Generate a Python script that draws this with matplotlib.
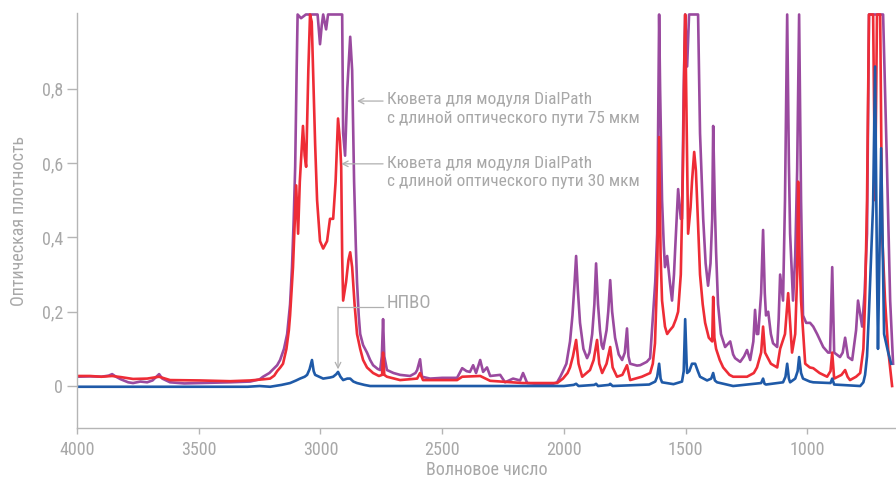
import matplotlib
matplotlib.use("Agg")
from matplotlib import pyplot as plt

plt.rcParams['font.family'] = ['Roboto', 'DejaVu Sans']

# spectra: wavenumber (cm-1) / absorbance, 1.0 = top of the frame
wn_75 = [4000, 3947, 3900, 3870, 3856, 3840, 3820, 3790, 3770, 3740, 3712, 3690, 3663, 3650,
         3618, 3560, 3495, 3430, 3371, 3289, 3250, 3236, 3210, 3195, 3178, 3166, 3150, 3137,
         3125, 3117, 3110, 3104, 3098, 3094, 3080, 3060, 3012, 3002, 2995, 2989, 2977, 2969,
         2911, 2907, 2899, 2890, 2878, 2870, 2862, 2855, 2850, 2843, 2837, 2825, 2809, 2796,
         2784, 2765, 2755, 2748, 2743, 2738, 2727, 2700, 2673, 2632, 2610, 2603, 2591, 2583,
         2550, 2500, 2439, 2418, 2400, 2386, 2373, 2361, 2344, 2332, 2316, 2303, 2262, 2242,
         2209, 2180, 2168, 2151, 2100, 2057, 2028, 2015, 2004, 1990, 1975, 1965, 1957, 1950,
         1943, 1934, 1920, 1905, 1895, 1884, 1875, 1868, 1860, 1852, 1845, 1839, 1825, 1818,
         1810, 1802, 1790, 1775, 1761, 1750, 1741, 1735, 1728, 1700, 1687, 1660, 1646, 1634,
         1625, 1617, 1612, 1609, 1605, 1597, 1590, 1585, 1576, 1565, 1556, 1548, 1543, 1531,
         1520, 1515, 1508, 1502, 1494, 1486, 1449, 1441, 1428, 1418, 1408, 1398, 1391, 1387,
         1380, 1375, 1367, 1355, 1338, 1317, 1305, 1297, 1276, 1260, 1248, 1235, 1222, 1215,
         1208, 1202, 1190, 1182, 1175, 1170, 1161, 1150, 1141, 1124, 1118, 1112, 1100, 1092,
         1083, 1076, 1071, 1059, 1050, 1042, 1034, 1026, 1018, 1005, 989, 976, 960, 935,
         915, 907, 898, 890, 866, 855, 845, 833, 816, 800, 792, 775, 765, 755,
         747, 689, 673, 660, 648]
abs_75 = [0.025, 0.026, 0.025, 0.028, 0.032, 0.025, 0.018, 0.010, 0.008, 0.012, 0.010, 0.015, 0.032, 0.020,
          0.010, 0.007, 0.008, 0.009, 0.010, 0.012, 0.018, 0.025, 0.035, 0.045, 0.056, 0.070, 0.10, 0.14,
          0.22, 0.32, 0.45, 0.59, 0.85, 1.0, 0.99, 1.0, 1.0, 0.92, 0.97, 1.0, 0.96, 1.0,
          1.0, 0.68, 0.62, 0.80, 0.94, 0.85, 0.55, 0.38, 0.28, 0.19, 0.14, 0.11, 0.09, 0.07,
          0.056, 0.046, 0.043, 0.08, 0.18, 0.08, 0.043, 0.035, 0.030, 0.027, 0.035, 0.043, 0.072, 0.025,
          0.020, 0.022, 0.022, 0.048, 0.040, 0.038, 0.056, 0.035, 0.070, 0.038, 0.050, 0.027, 0.030, 0.010,
          0.020, 0.015, 0.035, 0.008, 0.005, 0.003, 0.010, 0.025, 0.040, 0.06, 0.12, 0.19, 0.27, 0.35,
          0.26, 0.17, 0.10, 0.075, 0.09, 0.14, 0.22, 0.33, 0.22, 0.15, 0.11, 0.10, 0.15, 0.20,
          0.285, 0.20, 0.13, 0.085, 0.07, 0.09, 0.155, 0.08, 0.06, 0.055, 0.056, 0.065, 0.075, 0.19,
          0.28, 0.41, 0.80, 1.0, 0.80, 0.50, 0.38, 0.32, 0.35, 0.28, 0.23, 0.30, 0.37, 0.53,
          0.45, 0.45, 0.80, 1.0, 0.86, 1.0, 1.0, 0.68, 0.45, 0.33, 0.27, 0.33, 0.45, 0.70,
          0.48, 0.36, 0.22, 0.14, 0.105, 0.12, 0.085, 0.075, 0.065, 0.08, 0.097, 0.07, 0.12, 0.205,
          0.14, 0.14, 0.25, 0.42, 0.25, 0.19, 0.20, 0.14, 0.115, 0.105, 0.18, 0.30, 0.23, 0.50,
          1.0, 0.60, 0.41, 0.23, 0.35, 0.58, 1.0, 0.50, 0.19, 0.17, 0.17, 0.16, 0.14, 0.105,
          0.09, 0.09, 0.32, 0.09, 0.078, 0.09, 0.13, 0.078, 0.07, 0.15, 0.23, 0.16, 0.25, 0.41,
          1.0, 1.0, 0.59, 0.23, 0.06]

wn_30 = [4000, 3947, 3900, 3856, 3820, 3770, 3712, 3663, 3618, 3495, 3371, 3289, 3236, 3207,
         3190, 3178, 3165, 3154, 3140, 3130, 3125, 3113, 3100, 3092, 3085, 3072, 3065, 3059,
         3050, 3043, 3036, 3031, 3022, 3014, 3002, 2989, 2973, 2961, 2948, 2938, 2928, 2920,
         2915, 2911, 2907, 2895, 2885, 2878, 2870, 2860, 2850, 2837, 2825, 2809, 2784, 2760,
         2747, 2743, 2738, 2727, 2673, 2603, 2591, 2579, 2439, 2418, 2344, 2303, 2168, 2028,
         2004, 1985, 1975, 1963, 1950, 1940, 1925, 1893, 1878, 1864, 1855, 1843, 1825, 1810,
         1800, 1782, 1760, 1741, 1728, 1680, 1646, 1635, 1626, 1617, 1609, 1603, 1597, 1585,
         1576, 1565, 1552, 1540, 1531, 1520, 1511, 1505, 1502, 1496, 1490, 1480, 1474, 1465,
         1458, 1453, 1441, 1430, 1420, 1405, 1391, 1387, 1382, 1375, 1360, 1346, 1320, 1305,
         1248, 1220, 1207, 1190, 1182, 1174, 1150, 1124, 1112, 1092, 1079, 1063, 1050, 1042,
         1038, 1032, 1026, 1009, 990, 976, 950, 919, 905, 898, 890, 860, 845, 835,
         825, 800, 783, 770, 763, 755, 747, 730, 722, 714, 701, 693, 681, 668, 652]
abs_30 = [0.027, 0.027, 0.025, 0.027, 0.024, 0.019, 0.020, 0.025, 0.016, 0.015, 0.013, 0.015, 0.018, 0.020,
          0.028, 0.040, 0.050, 0.06, 0.10, 0.15, 0.19, 0.32, 0.54, 0.41, 0.55, 0.70, 0.62, 0.59,
          0.85, 1.0, 0.98, 0.86, 0.65, 0.50, 0.39, 0.37, 0.39, 0.45, 0.45, 0.55, 0.72, 0.66,
          0.59, 0.35, 0.23, 0.28, 0.34, 0.36, 0.32, 0.22, 0.14, 0.10, 0.07, 0.05, 0.035, 0.027,
          0.030, 0.09, 0.030, 0.025, 0.016, 0.020, 0.035, 0.016, 0.016, 0.025, 0.027, 0.014, 0.008, 0.008,
          0.020, 0.035, 0.050, 0.08, 0.124, 0.06, 0.025, 0.043, 0.07, 0.124, 0.06, 0.035, 0.06, 0.105,
          0.05, 0.025, 0.03, 0.056, 0.016, 0.025, 0.035, 0.06, 0.115, 0.30, 0.67, 0.35, 0.23, 0.16,
          0.14, 0.15, 0.16, 0.18, 0.20, 0.30, 0.59, 0.90, 1.0, 0.70, 0.41, 0.48, 0.55, 0.63,
          0.58, 0.50, 0.30, 0.22, 0.17, 0.13, 0.12, 0.24, 0.13, 0.10, 0.07, 0.05, 0.03, 0.025,
          0.025, 0.035, 0.05, 0.09, 0.16, 0.09, 0.06, 0.05, 0.10, 0.14, 0.25, 0.09, 0.14, 0.30,
          0.55, 0.35, 0.23, 0.06, 0.05, 0.048, 0.035, 0.025, 0.04, 0.09, 0.02, 0.03, 0.043, 0.025,
          0.016, 0.025, 0.035, 0.10, 0.23, 0.50, 1.0, 1.0, 0.50, 1.0, 1.0, 0.41, 0.23, 0.097, 0.0]

wn_atr = [4000, 3300, 3250, 3207, 3160, 3125, 3100, 3084, 3065, 3055, 3045, 3035, 3028, 3022,
          2989, 2960, 2948, 2935, 2928, 2918, 2907, 2890, 2878, 2865, 2850, 2820, 2796, 2000,
          1960, 1950, 1940, 1875, 1868, 1860, 1815, 1810, 1800, 1650, 1625, 1617, 1609, 1603,
          1597, 1550, 1515, 1508, 1502, 1496, 1494, 1485, 1474, 1461, 1450, 1441, 1412, 1395,
          1387, 1380, 1371, 1305, 1190, 1182, 1176, 1170, 1100, 1090, 1083, 1076, 1071, 1050,
          1040, 1034, 1026, 1018, 990, 976, 905, 898, 890, 783, 770, 763, 755, 747,
          730, 722, 714, 710, 697, 685, 668, 656]
abs_atr = [-0.002, -0.002, 0.000, -0.002, 0.003, 0.008, 0.015, 0.020, 0.025, 0.030, 0.045, 0.070, 0.040, 0.030,
           0.020, 0.023, 0.025, 0.032, 0.038, 0.025, 0.016, 0.020, 0.020, 0.012, 0.008, 0.003, 0.000, 0.000,
           0.003, 0.006, 0.000, 0.003, 0.006, 0.000, 0.003, 0.006, 0.000, 0.004, 0.012, 0.025, 0.060, 0.020,
           0.010, 0.005, 0.012, 0.040, 0.18, 0.060, 0.035, 0.040, 0.060, 0.060, 0.040, 0.025, 0.015, 0.020,
           0.035, 0.015, 0.010, 0.000, 0.008, 0.020, 0.006, 0.004, 0.010, 0.025, 0.060, 0.020, 0.010, 0.020,
           0.040, 0.078, 0.035, 0.020, 0.012, 0.010, 0.008, 0.020, 0.004, 0.000, 0.010, 0.030, 0.080, 0.20,
           0.49, 0.86, 0.30, 0.10, 0.64, 0.14, 0.09, 0.06]

yticks = [0, 0.2, 0.4, 0.6, 0.8]
ytick_labels = ['0', '0,2', '0,4', '0,6', '0,8']
xticks = [4000, 3500, 3000, 2500, 2000, 1500, 1000]

grey = '#a8a8a8'
cond = ['Roboto Condensed', 'Liberation Sans Narrow', 'Roboto', 'DejaVu Sans']

fig = plt.figure(figsize=(8.96, 4.78), dpi=100)
ax = fig.add_axes([0.086, 0.1046, 0.914, 0.8682])

ax.plot(wn_75, abs_75, color='#9a4a9f', lw=1.9)
ax.plot(wn_30, abs_30, color='#ee2c36', lw=1.9)
ax.plot(wn_atr, abs_atr, color='#1f5aa8', lw=1.9)

ax.set_xlim(4000, 636)
ax.set_ylim(-0.113, 1.004)
ax.set_xticks(xticks)
ax.set_xticklabels([str(t) for t in xticks], family=cond)
ax.set_yticks(yticks)
ax.set_yticklabels(ytick_labels, family=cond)

for s in ['top', 'right']:
    ax.spines[s].set_visible(False)
for s in ['left', 'bottom']:
    ax.spines[s].set_color('#b5b5b5')
    ax.spines[s].set_linewidth(1.0)
ax.tick_params(axis='y', labelsize=13, length=7, width=1, pad=3)
ax.tick_params(axis='x', labelsize=13, length=4, width=1, pad=5)
ax.tick_params(colors='#b5b5b5', labelcolor=grey)

ax.set_xlabel('Волновое число', color=grey, fontsize=13, labelpad=2, family=cond)
ax.set_ylabel('Оптическая плотность', color=grey, fontsize=13, labelpad=10, family=cond)

arrow = dict(arrowstyle='->', color='#b0b0b0', lw=0.9, shrinkA=0, shrinkB=0)
ax.annotate('', xy=(2850, 0.767), xytext=(2743, 0.767), arrowprops=arrow)
ax.text(2727, 0.746, 'Кювета для модуля DialPath\nс длиной оптического пути 75 мкм',
        color=grey, fontsize=12.5, va='center', ha='left', linespacing=1.3, family=cond)
ax.annotate('', xy=(2915, 0.598), xytext=(2743, 0.598), arrowprops=arrow)
ax.text(2727, 0.575, 'Кювета для модуля DialPath\nс длиной оптического пути 30 мкм',
        color=grey, fontsize=12.5, va='center', ha='left', linespacing=1.3, family=cond)
ax.plot([2743, 2928], [0.213, 0.213], color='#b0b0b0', lw=0.9)
ax.annotate('', xy=(2928, 0.045), xytext=(2928, 0.213), arrowprops=arrow)
ax.text(2727, 0.223, 'НПВО', color=grey, fontsize=13.5, va='center', ha='left', family=cond)

fig.savefig('out.png', dpi=100)
